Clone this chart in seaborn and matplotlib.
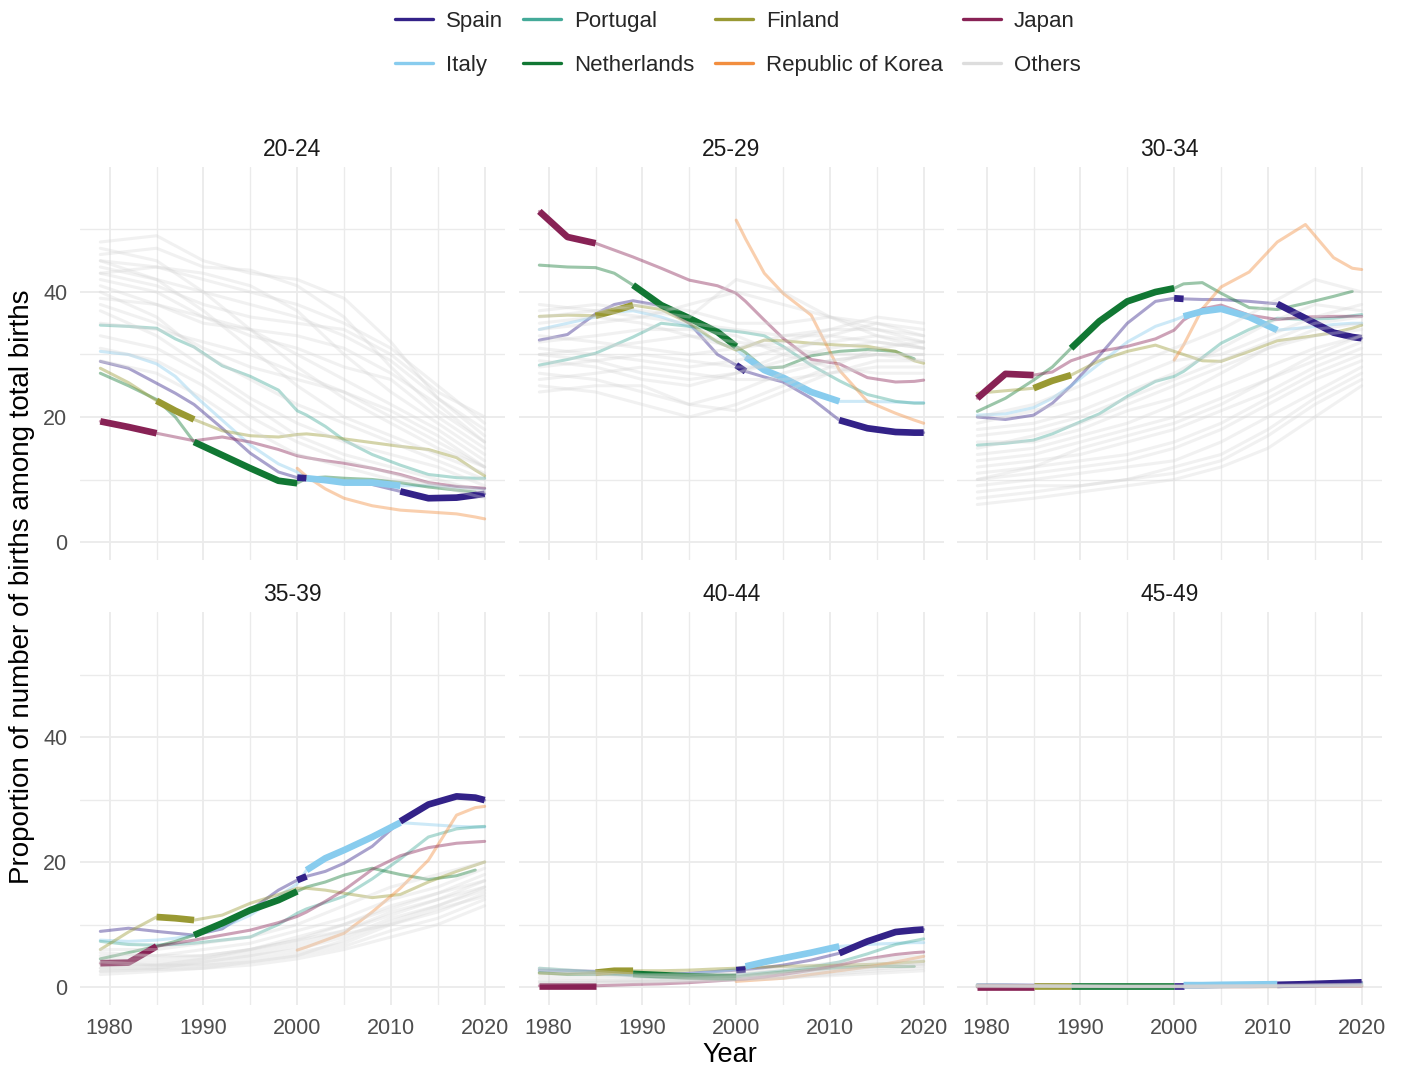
import numpy as np
import pandas as pd
import matplotlib
matplotlib.use("Agg")
import matplotlib.pyplot as plt
from matplotlib.lines import Line2D
import seaborn as sns

nan = np.nan

# ---- data -------------------------------------------------------------
years = [1979, 1982, 1985, 1987, 1989, 1992, 1995, 1998, 2000, 2001,
         2003, 2005, 2008, 2011, 2014, 2017, 2019, 2020]
other_years = [1979, 1985, 1990, 1995, 2000, 2005, 2010, 2015, 2020]
age_groups = ["20-24", "25-29", "30-34", "35-39", "40-44", "45-49"]
countries = ["Spain", "Italy", "Portugal", "Netherlands", "Finland",
             "Republic of Korea", "Japan"]

spain = {
    "20-24": [28.9, 27.8, 25.4, 23.8, 22.0, 18.2, 14.2, 11.2, 10.3, 10.2, 10.0, 9.7, 9.2, 8.1, 7.0, 7.1, 7.5, 7.7],
    "25-29": [32.3, 33.2, 36.5, 38.0, 38.6, 37.8, 35.0, 30.0, 28.3, 27.3, 26.4, 25.6, 23.0, 19.5, 18.2, 17.6, 17.5, 17.5],
    "30-34": [20.0, 19.6, 20.3, 22.2, 25.0, 29.8, 35.0, 38.5, 39.0, 38.9, 38.8, 38.8, 38.5, 38.1, 35.8, 33.5, 32.8, 32.6],
    "35-39": [8.9, 9.4, 8.9, 8.6, 8.3, 9.3, 12.3, 15.5, 17.1, 17.7, 18.5, 19.8, 22.5, 26.5, 29.2, 30.5, 30.3, 29.9],
    "40-44": [2.7, 2.6, 2.5, 2.2, 1.9, 1.9, 2.2, 2.5, 2.7, 2.8, 3.1, 3.5, 4.3, 5.4, 7.3, 8.8, 9.1, 9.2],
    "45-49": [0.35, 0.35, 0.3, 0.3, 0.25, 0.2, 0.2, 0.2, 0.2, 0.2, 0.2, 0.25, 0.3, 0.35, 0.45, 0.6, 0.7, 0.75],
}
italy = {
    "20-24": [30.5, 30.0, 28.5, 26.5, 23.5, 19.5, 15.5, 12.5, 11.2, 10.2, 9.9, 9.5, 9.5, 9.0, 9.0, 8.8, 8.6, 8.5],
    "25-29": [34.0, 35.0, 36.0, 36.8, 37.0, 36.0, 34.5, 32.0, 30.8, 29.6, 27.5, 26.3, 24.0, 22.5, 22.5, 22.4, 22.3, 22.3],
    "30-34": [20.3, 20.5, 21.5, 23.0, 25.0, 28.5, 32.0, 34.5, 35.5, 36.1, 36.9, 37.3, 36.0, 33.9, 34.3, 34.8, 35.0, 35.0],
    "35-39": [7.5, 7.3, 7.5, 7.8, 8.3, 9.5, 11.5, 14.5, 16.5, 18.7, 20.6, 21.9, 24.0, 26.3, 26.0, 25.7, 25.6, 25.6],
    "40-44": [2.6, 2.4, 2.2, 2.0, 1.9, 1.9, 2.1, 2.5, 2.9, 3.3, 4.0, 4.6, 5.5, 6.5, 6.8, 7.0, 7.1, 7.1],
    "45-49": [0.3, 0.3, 0.25, 0.2, 0.2, 0.2, 0.2, 0.2, 0.25, 0.3, 0.3, 0.35, 0.4, 0.45, 0.5, 0.5, 0.55, 0.55],
}
portugal = {
    "20-24": [34.7, 34.5, 34.2, 32.5, 31.2, 28.2, 26.5, 24.3, 21.0, 20.3, 18.5, 16.3, 14.0, 12.3, 10.8, 10.3, 10.2, 10.2],
    "25-29": [28.3, 29.2, 30.2, 31.5, 32.8, 35.0, 34.5, 34.0, 33.7, 33.5, 33.0, 31.3, 28.3, 25.8, 23.6, 22.5, 22.2, 22.2],
    "30-34": [15.5, 15.8, 16.3, 17.3, 18.6, 20.5, 23.3, 25.7, 26.5, 27.3, 29.5, 31.8, 34.0, 35.8, 35.6, 35.8, 36.2, 36.4],
    "35-39": [7.3, 6.8, 6.7, 6.8, 7.0, 7.5, 8.0, 10.0, 11.8, 12.5, 13.5, 14.5, 17.3, 20.5, 24.0, 25.3, 25.6, 25.7],
    "40-44": [3.0, 2.7, 2.4, 2.1, 1.8, 1.5, 1.5, 1.7, 1.9, 2.0, 2.3, 2.6, 3.2, 4.0, 5.3, 6.8, 7.4, 7.7],
    "45-49": [0.3, 0.25, 0.2, 0.15, 0.1, 0.1, 0.1, 0.1, 0.1, 0.1, 0.1, 0.1, 0.15, 0.2, 0.3, 0.4, 0.45, 0.5],
}
netherlands = {
    "20-24": [27.0, 25.0, 22.8, 20.0, 16.0, 13.9, 11.8, 9.8, 9.4, 10.2, 10.4, 10.2, 10.0, 9.5, 8.8, 8.3, 8.0, nan],
    "25-29": [44.3, 44.0, 43.9, 43.0, 41.1, 37.9, 35.8, 33.6, 31.3, 30.3, 27.8, 28.0, 29.8, 30.5, 30.8, 30.5, 29.3, nan],
    "30-34": [20.9, 23.0, 25.9, 28.0, 31.0, 35.3, 38.5, 40.0, 40.6, 41.3, 41.5, 39.8, 37.5, 37.2, 38.2, 39.3, 40.1, nan],
    "35-39": [4.5, 5.5, 6.5, 7.3, 8.3, 10.2, 12.3, 13.9, 15.3, 16.0, 16.8, 17.9, 19.0, 18.0, 17.2, 17.8, 18.7, nan],
    "40-44": [2.3, 2.0, 2.0, 2.0, 2.1, 1.9, 1.7, 1.6, 1.6, 1.8, 2.1, 2.4, 2.8, 3.1, 3.3, 3.3, 3.3, nan],
    "45-49": [0.15, 0.1, 0.1, 0.1, 0.1, 0.1, 0.1, 0.1, 0.1, 0.1, 0.1, 0.15, 0.15, 0.2, 0.2, 0.25, 0.25, nan],
}
finland = {
    "20-24": [27.8, 25.5, 22.6, 21.0, 19.6, 17.8, 17.0, 16.8, 17.2, 17.3, 17.0, 16.5, 15.9, 15.3, 14.8, 13.5, 11.5, 10.6],
    "25-29": [36.1, 36.3, 36.2, 37.0, 37.9, 37.2, 35.0, 32.0, 30.7, 31.2, 32.3, 32.2, 31.8, 31.5, 31.3, 30.5, 29.0, 28.6],
    "30-34": [23.8, 24.2, 24.6, 25.8, 26.7, 29.0, 30.5, 31.5, 30.5, 30.0, 29.0, 28.9, 30.5, 32.2, 32.8, 33.5, 34.2, 34.7],
    "35-39": [6.0, 8.8, 11.2, 11.0, 10.7, 11.5, 13.4, 14.8, 15.8, 15.8, 15.5, 15.0, 14.3, 14.8, 16.8, 18.5, 19.5, 20.0],
    "40-44": [2.2, 2.1, 2.3, 2.6, 2.6, 2.6, 2.7, 2.9, 3.0, 3.1, 3.2, 3.3, 3.4, 3.5, 3.6, 3.8, 4.0, 4.1],
    "45-49": [0.2, 0.2, 0.15, 0.15, 0.15, 0.15, 0.15, 0.15, 0.15, 0.15, 0.15, 0.15, 0.2, 0.2, 0.25, 0.3, 0.3, 0.3],
}
korea = {
    "20-24": [nan] * 8 + [11.8, 10.5, 8.5, 7.0, 5.8, 5.1, 4.8, 4.5, 4.0, 3.7],
    "25-29": [nan] * 8 + [51.5, 48.5, 43.0, 39.8, 36.3, 27.5, 22.5, 20.6, 19.5, 19.0],
    "30-34": [nan] * 8 + [29.1, 31.5, 37.3, 40.8, 43.2, 48.0, 50.8, 45.5, 43.8, 43.6],
    "35-39": [nan] * 8 + [5.9, 6.4, 7.5, 8.6, 12.0, 15.8, 20.3, 27.5, 28.7, 28.9],
    "40-44": [nan] * 8 + [0.9, 1.0, 1.2, 1.4, 2.0, 2.6, 3.2, 4.0, 4.6, 4.9],
    "45-49": [nan] * 8 + [0.05, 0.05, 0.05, 0.05, 0.05, 0.05, 0.1, 0.1, 0.15, 0.15],
}
japan = {
    "20-24": [19.3, 18.4, 17.4, 16.8, 16.2, 16.8, 16.0, 14.8, 13.8, 13.5, 13.0, 12.6, 11.8, 10.8, 9.5, 8.9, 8.7, 8.6],
    "25-29": [52.9, 48.8, 47.8, 46.7, 45.6, 43.8, 41.9, 41.0, 39.8, 38.5, 35.5, 32.6, 29.2, 28.5, 26.3, 25.6, 25.7, 25.9],
    "30-34": [23.0, 26.9, 26.7, 27.2, 29.0, 30.5, 31.3, 32.5, 33.9, 35.5, 37.3, 37.9, 36.3, 35.6, 36.0, 36.1, 36.1, 36.1],
    "35-39": [3.8, 3.9, 6.5, 7.0, 7.5, 8.3, 9.1, 10.3, 11.3, 12.0, 13.7, 15.5, 18.8, 21.0, 22.3, 23.0, 23.2, 23.3],
    "40-44": [0.2, 0.2, 0.2, 0.3, 0.4, 0.5, 0.7, 1.0, 1.2, 1.3, 1.6, 2.0, 2.7, 3.5, 4.5, 5.2, 5.5, 5.6],
    "45-49": [0.0, 0.0, 0.0, 0.0, 0.0, 0.0, 0.0, 0.0, 0.0, 0.0, 0.0, 0.05, 0.05, 0.1, 0.1, 0.15, 0.15, 0.15],
}

# Country with the record value in each period (drawn bold)
leaders = ["Japan", "Finland", "Netherlands", "Spain", "Italy", "Spain"]
leader_start = [1979, 1985, 1989, 2000, 2001, 2011]
leader_end = [1985, 1989, 2000, 2001, 2011, 2020]

others_20_24 = [
    [48, 49, 45, 43, 42, 39, 32, 23, 17],
    [46, 47, 44, 43.5, 41, 36, 28, 21, 16],
    [45, 44, 42, 40, 38, 35, 31, 25, 19],
    [44, 42, 40, 38, 36, 33, 29, 23, 18],
    [43, 44, 43, 41, 37, 30, 24, 19, 14],
    [42, 40, 36, 33, 31, 28, 26, 20, 15],
    [47, 45, 40, 34, 28, 23, 19, 15, 12],
    [45, 42, 37, 31, 25, 20, 17, 14, 11],
    [41, 38, 35, 34, 33, 31, 27, 22, 16],
    [40, 36, 30, 26, 22, 19, 16, 13, 10],
    [39, 38, 36, 34, 30, 26, 22, 18, 13],
    [37, 33, 28, 23, 19, 16, 14, 12, 9],
    [35, 34, 32, 30, 27, 24, 21, 17, 12],
    [33, 31, 27, 22, 17, 14, 12, 10, 8],
    [31, 29, 25, 20, 16, 13, 11, 9, 7],
    [43, 41, 38, 36, 35, 34, 30, 24, 20],
    [38, 35, 31, 28, 26, 24, 20, 16, 12],
    [29, 27, 23, 18, 14, 12, 10, 9, 8],
]
others_25_29 = [
    [38, 37, 36, 35, 34, 33, 33, 32, 31],
    [36, 37, 38, 37, 35, 35, 36, 35, 33],
    [34, 35, 36, 38, 40, 38, 36, 34, 32],
    [33, 32, 31, 30, 31, 33, 34, 34, 33],
    [31, 30, 29, 28, 29, 31, 32, 33, 32],
    [30, 31, 32, 33, 32, 31, 30, 30, 29],
    [29, 28, 26, 25, 27, 29, 31, 32, 31],
    [28, 29, 30, 29, 28, 28, 29, 30, 30],
    [27, 26, 24, 22, 24, 27, 29, 30, 30],
    [26, 27, 28, 27, 26, 26, 27, 28, 28],
    [24, 25, 25, 22, 21, 24, 27, 29, 29],
    [35, 36, 35, 33, 31, 32, 34, 36, 35],
    [37, 38, 37, 36, 42, 40, 36, 33, 31],
    [32, 33, 34, 34, 33, 30, 28, 27, 27],
    [25, 24, 22, 20, 22, 25, 28, 31, 32],
    [30, 29, 27, 26, 27, 30, 33, 35, 34],
]
others_30_34 = [
    [20, 22, 25, 28, 31, 34, 38, 42, 40],
    [18, 19, 21, 24, 27, 31, 35, 38, 37],
    [17, 18, 20, 23, 26, 29, 32, 35, 36],
    [15, 17, 19, 22, 25, 28, 31, 33, 34],
    [14, 15, 17, 19, 22, 25, 28, 31, 33],
    [13, 14, 16, 18, 20, 23, 26, 29, 32],
    [12, 13, 14, 16, 18, 21, 24, 28, 31],
    [11, 12, 13, 14, 16, 19, 23, 27, 30],
    [10, 11, 12, 13, 15, 18, 22, 26, 29],
    [9, 10, 11, 12, 13, 16, 20, 24, 28],
    [8, 9, 9, 10, 12, 14, 18, 23, 27],
    [7, 8, 9, 10, 11, 13, 17, 22, 26],
    [6, 7, 8, 9, 10, 12, 15, 20, 25],
    [19, 21, 23, 26, 29, 30, 33, 36, 38],
    [16, 16, 18, 21, 23, 27, 31, 34, 35],
    [10, 12, 15, 17, 19, 22, 26, 30, 33],
]
others_35_39 = [
    [6, 6, 7, 8, 10, 13, 16, 18, 20],
    [5, 5, 6, 7, 9, 11, 14, 16, 19],
    [4.5, 4.5, 5, 6, 8, 10, 13, 15, 18],
    [4, 4, 4.5, 5.5, 7, 9, 12, 14, 17],
    [3.5, 3.5, 4, 5, 6, 8, 11, 13, 16],
    [3, 3, 3.5, 4.5, 5.5, 7, 10, 12, 15],
    [2.5, 2.8, 3, 4, 5, 6.5, 9, 11, 14],
    [2, 2.5, 3, 3.5, 4.5, 6, 8, 10, 13],
    [5.5, 5, 5, 6, 7.5, 10, 12.5, 15, 17],
    [3, 3.5, 4.5, 6, 7.5, 9, 11.5, 14, 16],
    [4, 3.5, 3.5, 4, 5, 7.5, 10.5, 13, 15.5],
    [2.5, 3, 4, 5, 6.5, 8.5, 10, 12.5, 14.5],
]
others_40_44 = [
    [3, 2.5, 2, 2, 2.3, 3, 3.8, 4.5, 5],
    [2.5, 2, 1.8, 1.8, 2, 2.6, 3.3, 4, 4.5],
    [2, 1.8, 1.5, 1.5, 1.8, 2.3, 3, 3.6, 4.2],
    [1.5, 1.3, 1.2, 1.3, 1.5, 2, 2.6, 3.2, 3.8],
    [1, 1, 1, 1.1, 1.3, 1.7, 2.3, 2.9, 3.4],
    [0.8, 0.8, 0.8, 0.9, 1.1, 1.4, 2, 2.6, 3],
    [2.8, 2.2, 1.6, 1.4, 1.6, 2.2, 2.8, 3.3, 3.6],
    [0.6, 0.7, 0.8, 1, 1.2, 1.5, 1.8, 2.2, 2.6],
]
others_45_49 = [
    [0.3, 0.2, 0.15, 0.1, 0.1, 0.15, 0.2, 0.3, 0.4],
    [0.2, 0.15, 0.1, 0.1, 0.1, 0.1, 0.15, 0.2, 0.3],
    [0.25, 0.2, 0.15, 0.1, 0.1, 0.1, 0.1, 0.15, 0.25],
    [0.15, 0.1, 0.1, 0.05, 0.05, 0.1, 0.1, 0.15, 0.2],
    [0.1, 0.1, 0.05, 0.05, 0.05, 0.05, 0.1, 0.1, 0.15],
    [0.35, 0.25, 0.2, 0.15, 0.15, 0.2, 0.25, 0.35, 0.45],
    [0.05, 0.05, 0.05, 0.05, 0.05, 0.05, 0.05, 0.1, 0.1],
    [0.2, 0.2, 0.15, 0.15, 0.15, 0.2, 0.25, 0.3, 0.35],
]

series = {"Spain": spain, "Italy": italy, "Portugal": portugal,
          "Netherlands": netherlands, "Finland": finland,
          "Republic of Korea": korea, "Japan": japan}
others = {"20-24": others_20_24, "25-29": others_25_29, "30-34": others_30_34,
          "35-39": others_35_39, "40-44": others_40_44, "45-49": others_45_49}

palette = {"Spain": "#332288", "Italy": "#88CCEE", "Portugal": "#44AA99",
           "Netherlands": "#117733", "Finland": "#999933",
           "Republic of Korea": "#F28E3F", "Japan": "#882255"}
others_color = "#D4D4D4"

# ---- long tables ------------------------------------------------------
rows = []
for c in countries:
    for ag in age_groups:
        for yr, v in zip(years, series[c][ag]):
            rows.append((c, ag, yr, v))
hl = pd.DataFrame(rows, columns=["country", "age", "year", "value"]).dropna()

rows = []
for ag in age_groups:
    for i, line in enumerate(others[ag]):
        for yr, v in zip(other_years, line):
            rows.append((ag, i, yr, v))
oth = pd.DataFrame(rows, columns=["age", "id", "year", "value"])

# ---- figure -----------------------------------------------------------
sns.set_style("white")
plt.rcParams["font.family"] = ["Liberation Sans", "DejaVu Sans"]

W, H = 1403, 1072
fig = plt.figure(figsize=(W / 100, H / 100), dpi=100)
lefts = [80, 519, 957]
tops = [167, 612]
pw, ph = 425, 393

thin_lw = 2.2
thick_lw = 4.8

for k, ag in enumerate(age_groups):
    r, c = divmod(k, 3)
    ax = fig.add_axes([lefts[c] / W, 1 - (tops[r] + ph) / H, pw / W, ph / H])
    ax.set_xlim(1976.83, 2022.17)
    ax.set_ylim(-2.88, 60.0)
    ax.set_xticks([1980, 1990, 2000, 2010, 2020])
    ax.set_xticks([1985, 1995, 2005, 2015], minor=True)
    ax.set_yticks([0, 20, 40])
    ax.set_yticks([10, 30, 50], minor=True)
    ax.grid(which="major", color="#EBEBEB", lw=1.3)
    ax.grid(which="minor", color="#EBEBEB", lw=1.0)
    ax.set_axisbelow(True)
    for s in ax.spines.values():
        s.set_visible(False)
    ax.tick_params(which="both", length=0, labelsize=15.5, labelcolor="#4D4D4D")
    ax.tick_params(axis="x", pad=9)
    ax.tick_params(axis="y", pad=9)
    if r == 0:
        ax.set_xticklabels([])
    if c != 0:
        ax.set_yticklabels([])

    sub = hl[hl["age"] == ag]
    # faded full series of each highlighted country
    sns.lineplot(data=sub, x="year", y="value", hue="country",
                 hue_order=countries, palette=palette, estimator=None,
                 lw=thin_lw, alpha=0.42, legend=False, ax=ax)
    # bold stretch while the country holds the record
    for name, y0, y1 in zip(leaders, leader_start, leader_end):
        seg = sub[(sub["country"] == name) & (sub["year"] >= y0) & (sub["year"] <= y1)]
        sns.lineplot(data=seg, x="year", y="value", color=palette[name],
                     estimator=None, lw=thick_lw, legend=False, ax=ax,
                     solid_capstyle="butt")
    # remaining countries
    sns.lineplot(data=oth[oth["age"] == ag], x="year", y="value", units="id",
                 estimator=None, color=others_color, alpha=0.32, lw=thin_lw,
                 legend=False, ax=ax)

    ax.set_xlabel("")
    ax.set_ylabel("")
    ax.set_title(ag, fontsize=16.5, color="#1A1A1A", pad=8)

fig.text(730 / W, 1 - 1055 / H, "Year", ha="center", va="center",
         fontsize=19.5, color="black")
fig.text(22 / W, 1 - 587 / H, "Proportion of number of births among total births",
         rotation=90, ha="center", va="center", fontsize=20, color="black")

handles = [Line2D([], [], color=palette[c], lw=2.4) for c in countries]
handles.append(Line2D([], [], color="#DDDDDD", lw=2.4))
labels = countries + ["Others"]
fig.legend(handles, labels, loc="upper center", ncol=4,
           bbox_to_anchor=(738 / W, 1 - 11 / H), frameon=False,
           fontsize=16, handlelength=1.7, handletextpad=0.6,
           columnspacing=0.9, labelspacing=1.03, borderpad=0,
           borderaxespad=0)

fig.savefig("out.png", dpi=100)
